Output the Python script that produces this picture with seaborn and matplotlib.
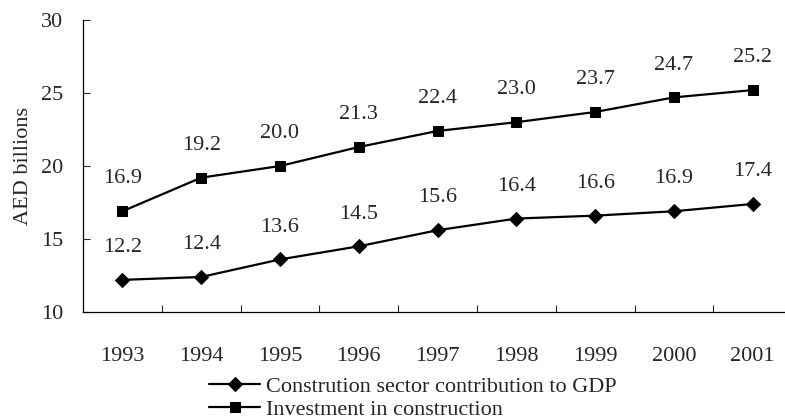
import pandas as pd
import matplotlib.pyplot as plt
import seaborn as sns

years = ["1993", "1994", "1995", "1996", "1997", "1998", "1999", "2000", "2001"]
construccion = [12.2, 12.4, 13.6, 14.5, 15.6, 16.4, 16.6, 16.9, 17.4]
inversion = [16.9, 19.2, 20.0, 21.3, 22.4, 23.0, 23.7, 24.7, 25.2]
nombres = ["Constrution sector contribution to GDP", "Investment in construction"]

sns.set_style("white")
plt.rcParams["font.family"] = ["Liberation Serif", "DejaVu Serif"]
fs = 16

pos = list(range(len(years)))
df = pd.DataFrame({"pos": pos * 2,
                   "valor": construccion + inversion,
                   "serie": [nombres[0]] * len(years) + [nombres[1]] * len(years)})

fig = plt.figure(figsize=(7.85, 4.19), dpi=100)
ax = fig.add_axes([83 / 785, 1 - 312 / 419, 1 - 83 / 785, (312 - 20) / 419])

sns.lineplot(data=df, x="pos", y="valor", hue="serie", style="serie",
             markers={nombres[0]: "D", nombres[1]: "s"}, dashes=False,
             palette={nombres[0]: "black", nombres[1]: "black"},
             markersize=7.5, linewidth=1.6, markeredgecolor="black", ax=ax, legend=True)

# etiquetas de valores
for serie in (construccion, inversion):
    for x, v in zip(pos, serie):
        ax.annotate(f"{v:.1f}", (x, v), xytext=(0, 20), textcoords="offset points",
                    ha="center", va="baseline", fontsize=fs)

ax.set_xlim(-0.5, 8.41)
ax.set_ylim(10, 30)
ax.set_yticks([10, 15, 20, 25, 30])
ax.set_xticks(pos)
ax.set_xticklabels(years)
ax.set_xticks([p + 0.5 for p in pos[:-1]], minor=True)
ax.tick_params(axis="x", which="major", length=0, pad=25, labelsize=fs)
ax.tick_params(axis="x", which="minor", direction="in", length=5, width=0.8, bottom=True)
ax.tick_params(axis="y", direction="in", length=5, width=0.8, left=True, labelsize=fs, pad=14)
for s in ["top", "right"]:
    ax.spines[s].set_visible(False)
for s in ["left", "bottom"]:
    ax.spines[s].set_color("black")
    ax.spines[s].set_linewidth(0.9)

ax.set_xlabel("")
ax.set_ylabel("AED billions", fontsize=fs, labelpad=6)

handles, labels = ax.get_legend_handles_labels()
ax.get_legend().remove()
fig.legend(handles, labels, loc="center left", bbox_to_anchor=(209 / 785, 1 - 398 / 419),
           frameon=False, fontsize=fs, handlelength=2.3, handletextpad=0.25,
           labelspacing=0.1, borderpad=0, borderaxespad=0)

plt.savefig("out.png", dpi=100)
